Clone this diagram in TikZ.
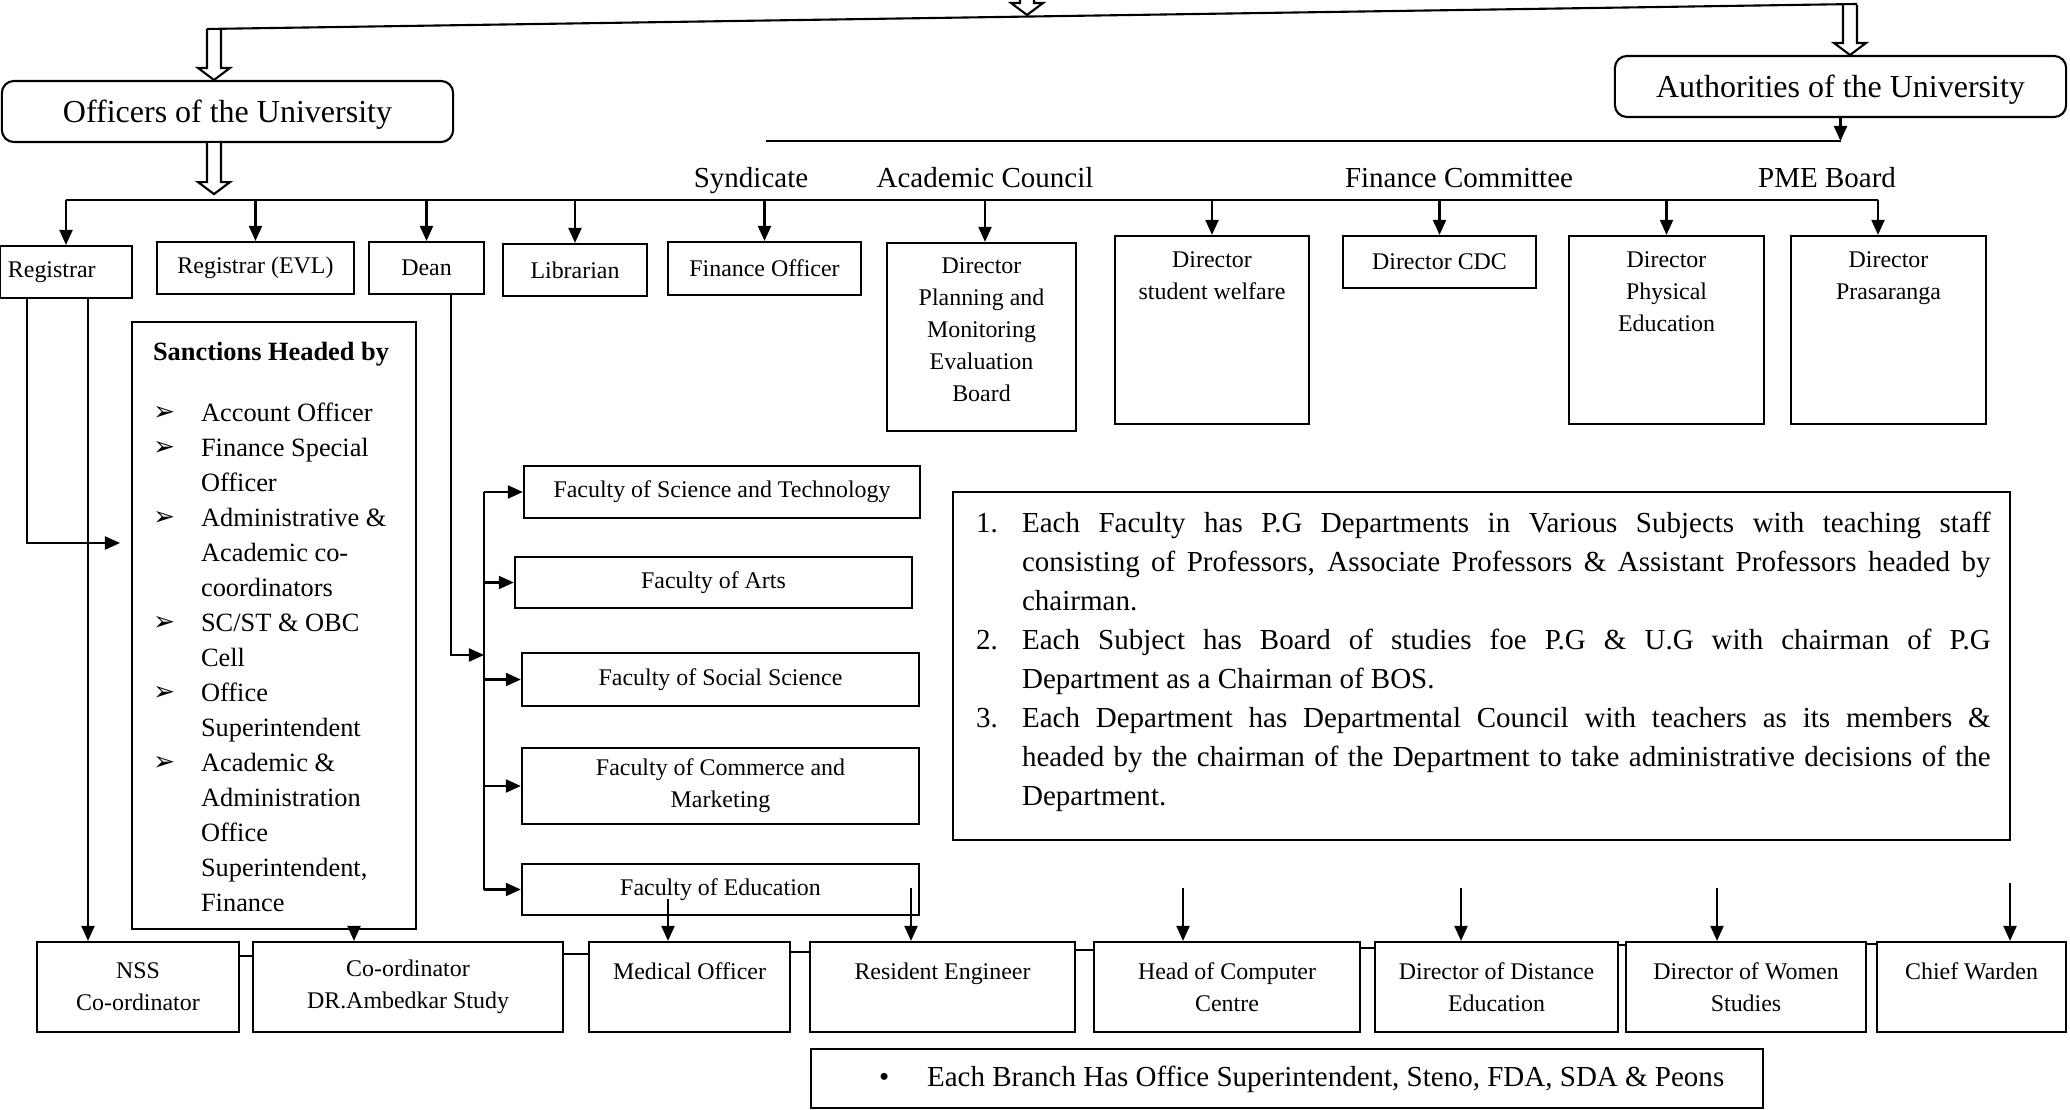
\documentclass[tikz,border=0pt]{standalone}
\usepackage{fontspec}
\setmainfont{Liberation Serif}
\newfontfamily\dingfont{DejaVu Sans}
\usetikzlibrary{positioning,arrows.meta}
\newcommand{\headsz}{\fontsize{9.1}{11}\selectfont}
\newcommand{\labsz}{\fontsize{8.25}{11.1}\selectfont}
\newcommand{\boxsz}{\fontsize{6.8}{9.1}\selectfont}
\newcommand{\listsz}{\fontsize{7.5}{9.96}\selectfont}
\newcommand{\sbul}{\makebox[0.48cm][l]{\raisebox{0.1ex}{\dingfont\fontsize{7.5}{8}\selectfont ➢}}}
\newcommand{\sind}{\hspace*{0.48cm}}
\tikzset{pics/hollowdown/.style={code={
  \draw[fill=white] (-7,0) -- (-7,#1-12) -- (-16,#1-12) -- (0,#1) -- (16,#1-12) -- (7,#1-12) -- (7,0);}}}
\begin{document}
\begin{tikzpicture}[x=0.01cm, y=-0.01cm, >={Triangle[length=1.5mm,width=1.3mm]}, line width=0.6pt,
    orgbox/.style={draw, inner sep=0, font=\boxsz, align=center},
    headbox/.style={draw, rounded corners=0.12cm, inner sep=0, font=\headsz, text height=0.7em, text depth=0.1em,
        minimum width=4.51cm, minimum height=0.61cm},
    bodylabel/.style={inner sep=1pt, font=\labsz, text height=0.7em, text depth=0.22em},
    innertext/.style={inner sep=0, font=\boxsz, align=center}]
    \useasboundingbox (0,0) rectangle (2070,1110);

    % heads
    \node [headbox] (officers) at (227.5,111.5) {Officers of the University};
    \node [headbox] (authorities) at (1840.5,86.5) {Authorities of the University};
    \pic at (1027,0) {hollowdown=15};
    \pic at (214,29) {hollowdown=51};
    \pic at (1850,5) {hollowdown=50};
    \pic at (officers.south -| 214,0) {hollowdown=51};
    \coordinate (topL) at (207,29);
    \coordinate (topR) at (1857,4);
    \draw (topL) -- (topR);

    % bodies
    \node [bodylabel] (syndicate) at (751,179) {Syndicate};
    \node [bodylabel] (acad) at (985,179) {Academic Council};
    \node [bodylabel] (fincom) at (1459,179) {Finance Committee};
    \node [bodylabel] (pme) at (1827,179) {PME Board};
    \coordinate (synL) at (766,141);
    \draw [->] (authorities.south) -- (authorities.south |- synL);
    \draw (synL) -- (synL -| authorities.south);

    % top row
    \node [orgbox, minimum width=1.32cm, minimum height=0.52cm] (registrar) at (66,272) {\makebox[1.16cm][l]{Registrar}};
    \node [orgbox, minimum width=1.97cm, minimum height=0.52cm] (regevl) at (255.5,268) {Registrar (EVL)};
    \node [orgbox, minimum width=1.15cm, minimum height=0.52cm] (dean) at (426.5,268) {Dean};
    \node [orgbox, minimum width=1.44cm, minimum height=0.52cm] (librarian) at (575,270) {Librarian};
    \node [orgbox, minimum width=1.93cm, minimum height=0.53cm] (finofficer) at (764.5,268.5) {Finance Officer};
    \node [orgbox, minimum width=1.89cm, minimum height=1.88cm] (dpm) at (981.5,337) {};
    \node [orgbox, minimum width=1.94cm, minimum height=1.88cm] (dsw) at (1212,330) {};
    \node [orgbox, minimum width=1.93cm, minimum height=0.52cm] (dcdc) at (1439.5,262) {Director CDC};
    \node [orgbox, minimum width=1.95cm, minimum height=1.88cm] (dpe) at (1666.5,330) {};
    \node [orgbox, minimum width=1.95cm, minimum height=1.88cm] (dpr) at (1888.5,330) {};
    \node [innertext, below=0.15cm of dpm.north] (dpmtext) {Director\\Planning and\\Monitoring\\Evaluation\\Board};
    \node [innertext, below=0.16cm of dsw.north] (dswtext) {Director\\student welfare};
    \node [innertext, below=0.16cm of dpe.north] (dpetext) {Director\\Physical\\Education};
    \node [innertext, below=0.16cm of dpr.north] (dprtext) {Director\\Prasaranga};

    \coordinate (busL) at (66,200);
    \coordinate (busR) at (1878,200);
    \draw (busL) -- (busR);
    \draw [->] (busL) -- (registrar.north);
    \foreach \n in {regevl, dean, librarian, finofficer, dsw, dpe}
        \draw [->] (\n.north |- busL) -- (\n.north);
    \draw [->] (acad.south) -- (acad.south |- dpm.north);
    \draw [->] (dcdc.north |- fincom.south) -- (dcdc.north);
    \draw [->] (busR |- pme.south) -- (busR |- dpr.north);

    % sanctions
    \node [orgbox, minimum width=2.84cm, minimum height=6.07cm] (sanctions) at (274,625.5) {};
    \node [anchor=north west, inner sep=0, align=left, font=\listsz] (sanlist) at (152,341)
        {\textbf{Sanctions Headed by}\\[0.26cm]
         \sbul Account Officer\\ \sbul Finance Special\\ \sind Officer\\
         \sbul Administrative \&\\ \sind Academic co-\\ \sind coordinators\\
         \sbul SC/ST \& OBC\\ \sind Cell\\ \sbul Office\\ \sind Superintendent\\
         \sbul Academic \&\\ \sind Administration\\ \sind Office\\ \sind Superintendent,\\ \sind Finance};

    % faculties
    \node [orgbox, minimum width=3.96cm, minimum height=0.52cm] (fsci) at (722,492) {Faculty of Science and Technology};
    \node [orgbox, minimum width=3.97cm, minimum height=0.51cm] (farts) at (713.5,582.5) {Faculty of Arts};
    \node [orgbox, minimum width=3.97cm, minimum height=0.53cm] (fsoc) at (720.5,679.5) {Faculty of Social Science};
    \node [orgbox, minimum width=3.97cm, minimum height=0.76cm] (fcom) at (720.5,786) {Faculty of Commerce and\\Marketing};
    \node [orgbox, minimum width=3.97cm, minimum height=0.51cm] (fedu) at (720.5,889.5) {Faculty of Education};
    \coordinate (d1) at (451,294);
    \coordinate (fbus) at (484,655);
    \draw [->] (d1) |- (fbus);
    \draw (fsci.west -| fbus) -- (fedu.west -| fbus);
    \foreach \f in {fsci, farts, fsoc, fcom, fedu}
        \draw [->] (\f.west -| fbus) -- (\f.west);

    % notes
    \node [orgbox, minimum width=10.57cm, minimum height=3.48cm] (notes) at (1481.5,666) {};
    \node [anchor=north west, inner sep=0] (notetext) at (975,511) {\begin{minipage}[t]{10.14cm}
        \labsz\setlength{\parindent}{0pt}\setlength{\leftskip}{0.46cm}%
        \hspace*{-0.46cm}\makebox[0.46cm][l]{1.}Each Faculty has P.G Departments in Various Subjects with teaching staff\linebreak
        consisting of Professors, Associate Professors \& Assistant Professors headed by\linebreak chairman.\par
        \hspace*{-0.46cm}\makebox[0.46cm][l]{2.}Each Subject has Board of studies foe P.G \& U.G with chairman of P.G\linebreak
        Department as a Chairman of BOS.\par
        \hspace*{-0.46cm}\makebox[0.46cm][l]{3.}Each Department has Departmental Council with teachers as its members \&\linebreak
        headed by the chairman of the Department to take administrative decisions of the\linebreak Department.\par
        \end{minipage}};

    % bottom row
    \node [orgbox, minimum width=2.02cm, minimum height=0.9cm] (nss) at (138,987) {NSS\\Co-ordinator};
    \node [orgbox, minimum width=3.10cm, minimum height=0.9cm] (coamb) at (408,987) {Co-ordinator\\DR.Ambedkar Study};
    \node [orgbox, minimum width=2.01cm, minimum height=0.9cm] (medical) at (689.5,987) {Medical Officer\\\mbox{}};
    \node [orgbox, minimum width=2.65cm, minimum height=0.9cm] (resident) at (942.5,987) {Resident Engineer\\\mbox{}};
    \node [orgbox, minimum width=2.66cm, minimum height=0.9cm] (hcc) at (1227,987) {Head of Computer\\Centre};
    \node [orgbox, minimum width=2.43cm, minimum height=0.9cm] (dde) at (1496.5,987) {Director of Distance\\Education};
    \node [orgbox, minimum width=2.40cm, minimum height=0.9cm] (dws) at (1746,987) {Director of Women\\Studies};
    \node [orgbox, minimum width=1.89cm, minimum height=0.9cm] (warden) at (1971.5,987) {Chief Warden\\\mbox{}};
    \foreach \a/\b/\y in {nss/coamb/956, coamb/medical/954, medical/resident/952, resident/hcc/950,
                          hcc/dde/948, dde/dws/945, dws/warden/944}
        \draw (\a.east |- 0,\y) -- (\b.west |- 0,\y);

    \coordinate (r1) at (27,298);
    \coordinate (r2) at (88,298);
    \coordinate (sanIn) at (120,543);
    \draw [->] (r1) |- (sanIn);
    \draw [->] (r2) -- (r2 |- nss.north);
    \coordinate (s1) at (354,929);
    \draw [->] (s1) -- (s1 |- coamb.north);
    \foreach \x/\y/\n in {668/899/medical, 911/888/resident, 1183/888/hcc, 1461/888/dde, 1717/888/dws, 2010/883/warden} {
        \coordinate (in\n) at (\x,\y);
        \draw [->] (in\n) -- (in\n |- \n.north);
    }

    % branch note
    \node [orgbox, minimum width=9.52cm, minimum height=0.59cm] (branch) at (1287,1078.5) {};
    \node [anchor=west, inner sep=0, font=\labsz] (branchtext) at (878,1079)
        {\makebox[0.48cm][l]{•}Each Branch Has Office Superintendent, Steno, FDA, SDA \& Peons};
\end{tikzpicture}
\end{document}
